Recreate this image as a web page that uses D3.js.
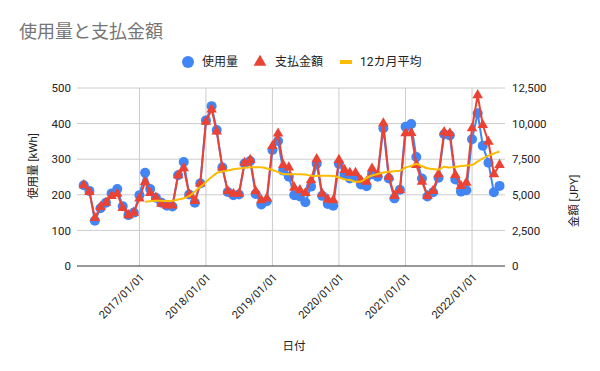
<!DOCTYPE html>
<html>
<head>
<meta charset="utf-8">
<script src="https://cdn.jsdelivr.net/npm/d3@7/dist/d3.min.js"></script>
<style>
  body { margin: 0; background: #ffffff; }
  text { font-family: Roboto, "Noto Sans CJK JP", sans-serif; }
</style>
</head>
<body>
<div id="chart"></div>
<script>
// monthly readings, 2016/03 - 2022/06
var months = [
  "2016/03","2016/04","2016/05","2016/06","2016/07","2016/08","2016/09","2016/10","2016/11","2016/12",
  "2017/01","2017/02","2017/03","2017/04","2017/05","2017/06","2017/07","2017/08","2017/09","2017/10","2017/11","2017/12",
  "2018/01","2018/02","2018/03","2018/04","2018/05","2018/06","2018/07","2018/08","2018/09","2018/10","2018/11","2018/12",
  "2019/01","2019/02","2019/03","2019/04","2019/05","2019/06","2019/07","2019/08","2019/09","2019/10","2019/11","2019/12",
  "2020/01","2020/02","2020/03","2020/04","2020/05","2020/06","2020/07","2020/08","2020/09","2020/10","2020/11","2020/12",
  "2021/01","2021/02","2021/03","2021/04","2021/05","2021/06","2021/07","2021/08","2021/09","2021/10","2021/11","2021/12",
  "2022/01","2022/02","2022/03","2022/04","2022/05","2022/06"
];
var usage = [
  227, 211, 127, 162, 178, 204, 216, 168, 143, 150,
  199, 262, 216, 192, 178, 169, 167, 255, 292, 201, 178, 232,
  409, 449, 382, 277, 208, 199, 201, 288, 295, 202, 173, 182,
  326, 351, 268, 251, 199, 195, 179, 223, 287, 197, 174, 169,
  287, 256, 246, 250, 229, 224, 258, 251, 387, 246, 190, 214,
  391, 399, 306, 246, 195, 207, 248, 370, 367, 243, 209, 213,
  356, 429, 338, 290, 207, 225
];
var payment = [
  5675, 5200, 3375, 4150, 4450, 4925, 5075, 4075, 3575, 3750,
  4750, 5900, 5125, 4800, 4375, 4250, 4250, 6375, 6875, 5025, 4575, 5800,
  10125, 11000, 9450, 6925, 5250, 5075, 5075, 7250, 7450, 5250, 4625, 4750,
  8425, 9300, 7100, 6925, 5500, 5325, 5125, 6025, 7500, 5075, 4675, 4625,
  7450, 6750, 6550, 6550, 6025, 5925, 6850, 6450, 10025, 6275, 4925, 5325,
  9325, 9350, 7100, 5925, 4925, 5275, 6450, 9400, 9325, 6400, 5625, 5850,
  9675, 12000, 9900, 8725, 6450, 7100
];
var average12 = [
  null, null, null, null, null, null, null, null, null, null,
  null, 4515, 4550, 4585, 4580, 4565, 4585, 4670, 4755, 4915, 5230, 5545,
  5900, 6250, 6530, 6635, 6705, 6790, 6845, 6895, 6930, 6930, 6930, 6845,
  6740, 6600, 6460, 6440, 6440, 6440, 6425, 6335, 6320, 6340, 6335, 6320,
  6215, 6090, 6040, 5920, 5935, 6180, 6355, 6460, 6565, 6620, 6655, 6690,
  6915, 7020, 7160, 7020, 6860, 6810, 6775, 6965, 6915, 6950, 7020, 7055,
  7090, 7340, 7550, 7745, 7900, 8040
];
var leftTicks = [0, 100, 200, 300, 400, 500];
var rightTicks = [0, 2500, 5000, 7500, 10000, 12500];
var yearTicks = ["2017/01/01", "2018/01/01", "2019/01/01", "2020/01/01", "2021/01/01", "2022/01/01"];

var width = 600, height = 371;
var plot = {left: 77, right: 505, top: 88, bottom: 266};
var colors = {usage: "#4285f4", payment: "#ea4335", avg: "#fbbc04"};

var parseMonth = d3.timeParse("%Y/%m");
var parseDay = d3.timeParse("%Y/%m/%d");

var data = months.map(function(m, i) {
  return {date: parseMonth(m), usage: usage[i], payment: payment[i], avg: average12[i]};
});

var svg = d3.select("#chart")
  .append("svg")
    .attr("width", width)
    .attr("height", height);

var x = d3.scaleTime()
  .domain([parseDay("2016/01/24"), parseDay("2022/07/01")])
  .range([plot.left, plot.right]);
var yL = d3.scaleLinear().domain([0, 500]).range([plot.bottom, plot.top]);
var yR = d3.scaleLinear().domain([0, 12500]).range([plot.bottom, plot.top]);

// title
svg.append("text")
  .attr("x", 19)
  .attr("y", 38)
  .style("font-size", "18px")
  .style("fill", "#757575")
  .text("使用量と支払金額");

// grid
svg.selectAll(".hgrid")
  .data(leftTicks.slice(1)).enter()
  .append("line")
    .attr("x1", plot.left).attr("x2", plot.right)
    .attr("y1", d => yL(d)).attr("y2", d => yL(d))
    .style("stroke", "#cccccc");

svg.selectAll(".vgrid")
  .data(yearTicks).enter()
  .append("line")
    .attr("x1", d => x(parseDay(d))).attr("x2", d => x(parseDay(d)))
    .attr("y1", plot.top).attr("y2", plot.bottom)
    .style("stroke", "#cccccc");

// axes
var axisLeft = d3.axisLeft(yL).tickValues(leftTicks).tickSize(0).tickPadding(6);
var gL = svg.append("g").attr("transform", "translate(" + plot.left + ",0)").call(axisLeft);
var axisRight = d3.axisRight(yR).tickValues(rightTicks).tickSize(0).tickPadding(7)
  .tickFormat(d3.format(","));
var gR = svg.append("g").attr("transform", "translate(" + plot.right + ",0)").call(axisRight);
[gL, gR].forEach(function(g) {
  g.select(".domain").remove();
  g.selectAll("text").style("font-size", "11.5px").style("fill", "#222222")
    .style("font-family", "Roboto, sans-serif");
});

var axisBottom = d3.axisBottom(x)
  .tickValues(yearTicks.map(parseDay))
  .tickSize(0)
  .tickFormat(d3.timeFormat("%Y/%m/%d"));
var gB = svg.append("g").attr("transform", "translate(0," + plot.bottom + ")").call(axisBottom);
gB.select(".domain").remove();
gB.selectAll("text")
  .style("font-size", "11px")
  .style("fill", "#222222")
  .style("font-family", "Roboto, sans-serif")
  .attr("text-anchor", "end")
  .attr("dy", null)
  .attr("y", 0)
  .attr("transform", "translate(5,12) rotate(-45)");

svg.append("line")
  .attr("x1", plot.left).attr("x2", plot.right)
  .attr("y1", plot.bottom).attr("y2", plot.bottom)
  .style("stroke", "#333333");

// axis titles
svg.append("text")
  .attr("x", 294).attr("y", 350)
  .attr("text-anchor", "middle")
  .style("font-size", "11.5px").style("fill", "#222222")
  .text("日付");
svg.append("text")
  .attr("transform", "translate(37,166) rotate(-90)")
  .attr("text-anchor", "middle")
  .style("font-size", "11.5px").style("fill", "#222222")
  .text("使用量 [kWh]");
svg.append("text")
  .attr("transform", "translate(578,201) rotate(-90)")
  .attr("text-anchor", "middle")
  .style("font-size", "11.5px").style("fill", "#222222")
  .text("金額 [JPY]");

// series
var usageLine = d3.line().x(d => x(d.date)).y(d => yL(d.usage));
var paymentLine = d3.line().x(d => x(d.date)).y(d => yR(d.payment));
var avgLine = d3.line()
  .defined(d => d.avg != null)
  .x(d => x(d.date)).y(d => yR(d.avg))
  .curve(d3.curveMonotoneX);

svg.append("path")
  .datum(data)
  .attr("d", usageLine)
  .style("fill", "none").style("stroke", colors.usage).style("stroke-width", 2);
svg.selectAll(".dot")
  .data(data).enter()
  .append("circle")
    .attr("cx", d => x(d.date)).attr("cy", d => yL(d.usage))
    .attr("r", 5)
    .style("fill", colors.usage);

svg.append("path")
  .datum(data)
  .attr("d", paymentLine)
  .style("fill", "none").style("stroke", colors.payment).style("stroke-width", 2);
var tri = d3.symbol().type(d3.symbolTriangle).size(48);
svg.selectAll(".tri")
  .data(data).enter()
  .append("path")
    .attr("d", tri)
    .attr("transform", d => "translate(" + x(d.date) + "," + yR(d.payment) + ")")
    .style("fill", colors.payment);

svg.append("path")
  .datum(data)
  .attr("d", avgLine)
  .style("fill", "none").style("stroke", colors.avg).style("stroke-width", 2);

// legend
var legend = svg.append("g").attr("transform", "translate(0,62)");
legend.append("circle").attr("cx", 188).attr("cy", 0).attr("r", 6).style("fill", colors.usage);
legend.append("text").attr("x", 202).attr("y", 4).style("font-size", "12px").style("fill", "#222222").text("使用量");
legend.append("path").attr("d", d3.symbol().type(d3.symbolTriangle).size(70))
  .attr("transform", "translate(260,0)").style("fill", colors.payment);
legend.append("text").attr("x", 275).attr("y", 4).style("font-size", "12px").style("fill", "#222222").text("支払金額");
legend.append("rect").attr("x", 340).attr("y", -2).attr("width", 12).attr("height", 4).style("fill", colors.avg);
legend.append("text").attr("x", 360).attr("y", 4).style("font-size", "12px").style("fill", "#222222").text("12カ月平均");
</script>
</body>
</html>
